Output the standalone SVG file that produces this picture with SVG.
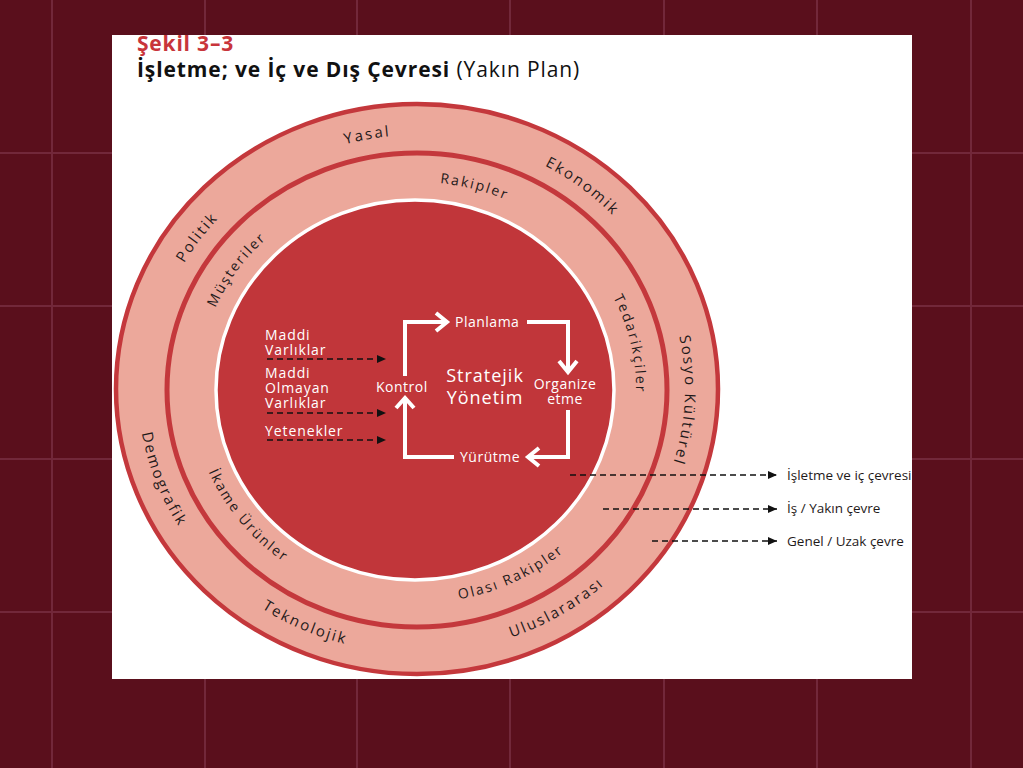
<svg xmlns="http://www.w3.org/2000/svg" width="1023" height="768" viewBox="0 0 1023 768">
<style>
.grid{stroke:#72283a;stroke-width:2}
.rl{font-family:"Open Sans","Noto Sans",sans-serif;font-size:15px;letter-spacing:2.1px;fill:#1f1a1a}
.ml{font-family:"Open Sans","Noto Sans",sans-serif;font-size:14px;letter-spacing:2px;fill:#1f1a1a}
.w{font-family:"Open Sans","Noto Sans",sans-serif;fill:#ffffff}
.wl{font-size:14px;letter-spacing:0.9px}
.wc{font-size:14px;letter-spacing:0.5px}
.big{font-size:18px;letter-spacing:1px}
.side{font-family:"Open Sans","Noto Sans",sans-serif;font-size:13.5px;fill:#1f1a1a}
.dash{stroke:#111;stroke-width:1.6;stroke-dasharray:6 4;fill:none}
.cyc{stroke:#fff;stroke-width:4;fill:none;stroke-linejoin:miter}
</style>
<defs>
<marker id="ah" markerUnits="userSpaceOnUse" markerWidth="9" markerHeight="8" refX="9" refY="4" orient="auto">
<path d="M0,0 L9,4 L0,8 z" fill="#111"/>
</marker>
<clipPath id="pc"><rect x="112" y="35" width="800" height="644"/></clipPath>
<path id="cwO" d="M149,389 A268,254 0 1,1 685,389 A268,254 0 1,1 149,389"/>
<path id="ccwO" d="M138,389 A279,264 0 1,0 696,389 A279,264 0 1,0 138,389"/>
<path id="cwM" d="M198,389 A219,207 0 1,1 636,389 A219,207 0 1,1 198,389"/>
<path id="ccwM" d="M191,389 A226,214 0 1,0 643,389 A226,214 0 1,0 191,389"/>
</defs>
<g id="background">
<rect x="0" y="0" width="1023" height="768" fill="#5a0f1c"/>
<line class="grid" x1="52" y1="0" x2="52" y2="768"/>
<line class="grid" x1="205" y1="0" x2="205" y2="768"/>
<line class="grid" x1="357" y1="0" x2="357" y2="768"/>
<line class="grid" x1="510" y1="0" x2="510" y2="768"/>
<line class="grid" x1="664" y1="0" x2="664" y2="768"/>
<line class="grid" x1="817" y1="0" x2="817" y2="768"/>
<line class="grid" x1="971" y1="0" x2="971" y2="768"/>
<line class="grid" x1="0" y1="153" x2="1023" y2="153"/>
<line class="grid" x1="0" y1="306" x2="1023" y2="306"/>
<line class="grid" x1="0" y1="459" x2="1023" y2="459"/>
<line class="grid" x1="0" y1="612" x2="1023" y2="612"/>
<rect x="112" y="35" width="800" height="644" fill="#ffffff"/>
</g>
<g clip-path="url(#pc)">
<g id="title">
<text x="137" y="51" font-family="'Open Sans','Noto Sans',sans-serif" font-weight="bold" font-size="21" letter-spacing="0.8" fill="#c8353b">Şekil 3–3</text>
<text x="137" y="77" font-family="'Open Sans','Noto Sans',sans-serif" font-size="21" letter-spacing="0.9" fill="#111"><tspan font-weight="bold">İşletme; ve İç ve Dış Çevresi</tspan> (Yakın Plan)</text>
</g>
<g id="rings">
<ellipse id="outer-ring" cx="417" cy="389" rx="301" ry="285" fill="#eca89b" stroke="#c4383c" stroke-width="4.5"/>
<ellipse id="middle-ring" cx="417" cy="390" rx="250" ry="237" fill="none" stroke="#c4383c" stroke-width="5"/>
<ellipse id="inner-core" cx="415" cy="390" rx="199" ry="190" fill="#c1363a" stroke="#ffffff" stroke-width="3.5"/>
</g>
<g id="outer-labels">
<text class="rl"><textPath href="#cwO" startOffset="22%" text-anchor="middle">Yasal</textPath></text>
<text class="rl"><textPath href="#cwO" startOffset="35.7%" text-anchor="middle">Ekonomik</textPath></text>
<text class="rl"><textPath href="#cwO" startOffset="9.8%" text-anchor="middle">Politik</textPath></text>
<text class="rl"><textPath href="#cwO" startOffset="50.7%" text-anchor="middle">Sosyo Kültürel</textPath></text>
<text class="rl"><textPath href="#ccwO" startOffset="5.6%" text-anchor="middle">Demografik</textPath></text>
<text class="rl"><textPath href="#ccwO" startOffset="18.1%" text-anchor="middle">Teknolojik</textPath></text>
<text class="rl"><textPath href="#ccwO" startOffset="33.8%" text-anchor="middle">Uluslararası</textPath></text>
</g>
<g id="middle-labels">
<text class="ml"><textPath href="#cwM" startOffset="29.3%" text-anchor="middle">Rakipler</textPath></text>
<text class="ml"><textPath href="#cwM" startOffset="9.5%" text-anchor="middle">Müşteriler</textPath></text>
<text class="ml"><textPath href="#cwM" startOffset="46.6%" text-anchor="middle">Tedarikçiler</textPath></text>
<text class="ml"><textPath href="#ccwM" startOffset="10.5%" text-anchor="middle">İkame Ürünler</textPath></text>
<text class="ml"><textPath href="#ccwM" startOffset="32.3%" text-anchor="middle">Olası Rakipler</textPath></text>
</g>
<g id="resources">
<text class="w wl" x="265" y="340">Maddi</text>
<text class="w wl" x="265" y="355">Varlıklar</text>
<text class="w wl" x="265" y="378">Maddi</text>
<text class="w wl" x="265" y="393">Olmayan</text>
<text class="w wl" x="265" y="408">Varlıklar</text>
<text class="w wl" x="265" y="436">Yetenekler</text>
</g>
<g id="cycle">
<text id="planlama" class="w wc" x="455" y="327">Planlama</text>
<text id="kontrol" class="w wc" x="376" y="392">Kontrol</text>
<text id="organize" class="w wc" x="565" y="389" text-anchor="middle">Organize<tspan x="565" y="404">etme</tspan></text>
<text id="yurutme" class="w wc" x="460" y="462">Yürütme</text>
<text id="stratejik" class="w big" x="485" y="382" text-anchor="middle">Stratejik<tspan x="485" y="404">Yönetim</tspan></text>
</g>
<g id="side-labels">
<text class="side" x="787" y="480">İşletme ve iç çevresi</text>
<text class="side" x="787" y="513">İş / Yakın çevre</text>
<text class="side" x="787" y="546">Genel / Uzak çevre</text>
</g>
<g id="connectors">
<path class="cyc" d="M405,376 V322 H446"/>
<path class="cyc" d="M436,313 L447,322 L436,331"/>
<path class="cyc" d="M527,322 H568 V370"/>
<path class="cyc" d="M559,361 L568,372 L577,361"/>
<path class="cyc" d="M568,410 V457 H530"/>
<path class="cyc" d="M539,448 L528,457 L539,466"/>
<path class="cyc" d="M454,457 H405 V400"/>
<path class="cyc" d="M396,408 L405,398 L414,408"/>
<line class="dash" x1="267" y1="359" x2="386" y2="359" marker-end="url(#ah)"/>
<line class="dash" x1="267" y1="413" x2="386" y2="413" marker-end="url(#ah)"/>
<line class="dash" x1="267" y1="440" x2="386" y2="440" marker-end="url(#ah)"/>
<line class="dash" x1="570" y1="475" x2="777" y2="475" marker-end="url(#ah)"/>
<line class="dash" x1="603" y1="509" x2="777" y2="509" marker-end="url(#ah)"/>
<line class="dash" x1="652" y1="541" x2="777" y2="541" marker-end="url(#ah)"/>
</g>
</g>
</svg>
